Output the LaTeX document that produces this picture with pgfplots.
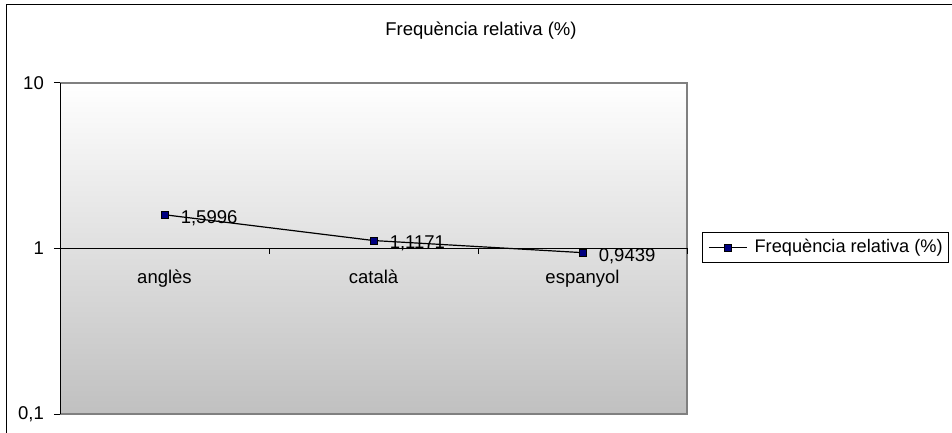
\documentclass[border=0pt]{standalone}
\usepackage{fontspec}
\setmainfont{Liberation Sans}
\usepackage{pgfplots}
\usepackage{pgfplotstable}
\pgfplotsset{compat=1.18}
\definecolor{serieNavy}{RGB}{0,0,128}
\definecolor{plotBorder}{RGB}{128,128,128}
\definecolor{plotBottom}{RGB}{192,192,192}

% freq. relativa per llengua
\pgfplotstableread{
x y label
0 1.5996 1,5996
1 1.1171 1,1171
2 0.9439 0,9439
}\freqtable

\begin{document}
\fontsize{18.5}{22}\selectfont
\begin{tikzpicture}[x=1pt,y=1pt]
\useasboundingbox (0,0) rectangle (952,433);
% chart area border (only top and left visible)
\draw[black, line width=1pt] (6,-2) -- (6,428) -- (954,428);
\node[anchor=base] at (481,397) {Frequència relativa (\%)};
\begin{axis}[
    at={(60pt,19pt)}, anchor=south west,
    scale only axis, width=627pt, height=331pt,
    xmin=-0.5, xmax=2.5,
    ymode=log, ymin=0.1, ymax=10,
    axis line style={draw=none},
    xtick=\empty,
    ytick={0.1,1,10}, yticklabels={{0,1},1,10},
    yminorticks=false,
    ytick pos=left, tick align=outside, major tick length=6pt,
    tick style={black, line width=1pt},
    yticklabel style={inner sep=0pt, xshift=-10pt},
    axis background/.style={top color=white, bottom color=plotBottom},
    clip=false,
    legend style={at={(1.0239,0.503)}, anchor=west, draw=black, line width=0.8pt,
        fill=white, inner xsep=6pt, inner ysep=6.8pt, column sep=7pt,
        nodes={inner sep=0pt}, font=\fontsize{18.2}{20}\selectfont},
    legend cell align=left,
    legend image code/.code={\draw[mark repeat=2,mark phase=2] plot coordinates {(0pt,0pt)(19pt,0pt)(38pt,0pt)};},
]
\draw[plotBorder, line width=1.5pt] (rel axis cs:0,1) -- (rel axis cs:1,1) -- (rel axis cs:1,0) -- (rel axis cs:0,0);
\draw[black, line width=1pt] (rel axis cs:0,0) -- (rel axis cs:0,1);
% category axis crossing at 1
\draw[black, line width=1pt] (axis cs:-0.5,1) -- (axis cs:2.5,1);
\draw[black, line width=1pt] (axis cs:0.5,1) -- ++(0pt,-6pt);
\draw[black, line width=1pt] (axis cs:1.5,1) -- ++(0pt,-6pt);
\draw[black, line width=1pt] (axis cs:2.5,1) -- ++(0pt,-6pt);
\node[anchor=base, yshift=-35.5pt] at (axis cs:0,1) {anglès};
\node[anchor=base, yshift=-35.5pt] at (axis cs:1,1) {català};
\node[anchor=base, yshift=-35.5pt] at (axis cs:2,1) {espanyol};

\addplot[black, line width=1.2pt, mark=square*, mark size=3.7pt,
    mark options={fill=serieNavy, draw=black, line width=0.6pt},
    nodes near coords, point meta=explicit symbolic,
    every node near coord/.append style={anchor=base west, inner sep=0pt, xshift=16pt, yshift=-8.4pt}]
    table[x=x, y=y, meta=label] {\freqtable};
\addlegendentry{Frequència relativa (\%)}
\end{axis}
\end{tikzpicture}
\end{document}
